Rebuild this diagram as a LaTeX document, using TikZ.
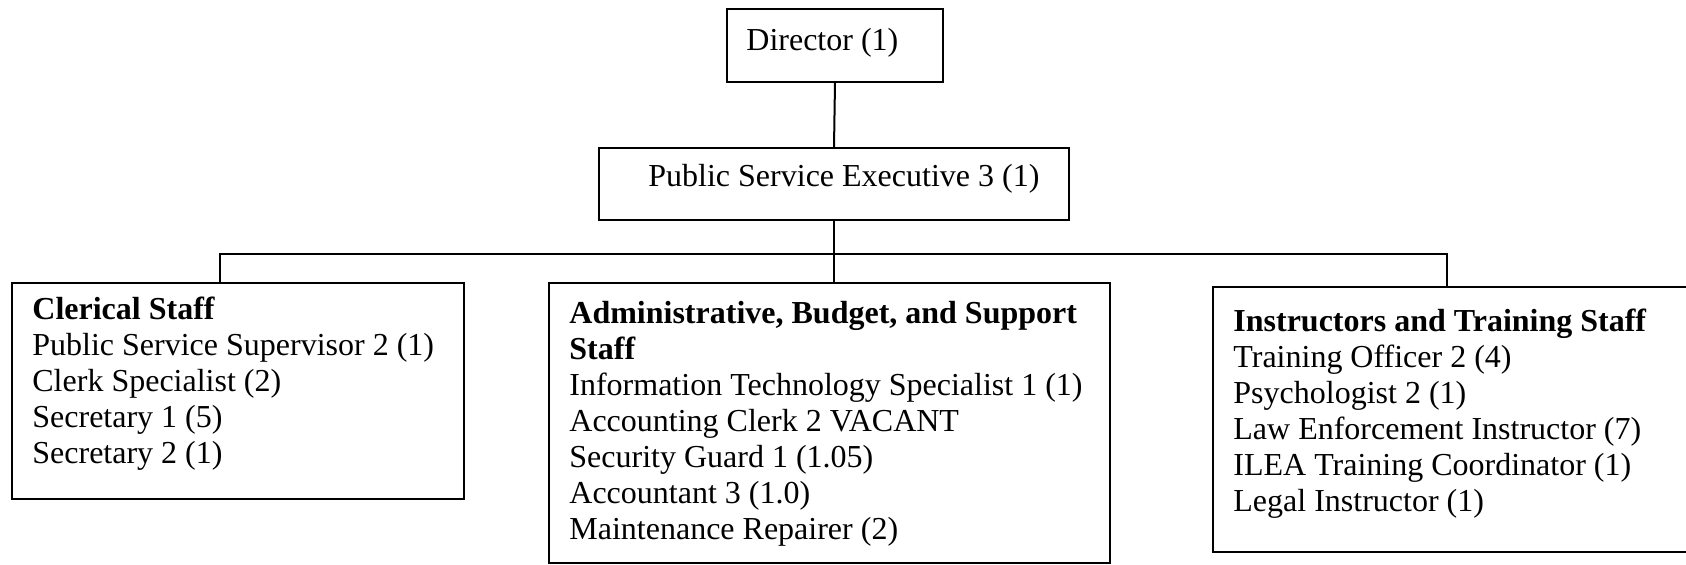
\documentclass[tikz,border=0pt]{standalone}
\usepackage{fontspec}
\setmainfont{Liberation Serif}
\begin{document}
\begin{tikzpicture}[x=0.5pt,y=-0.5pt,
  box/.style={draw, line width=1pt, rectangle, inner sep=0pt, anchor=north west},
  txt/.style={anchor=base west, align=left, inner sep=0pt, font=\fontsize{16pt}{18pt}\selectfont},
  conn/.style={line width=1pt}]
\useasboundingbox (0,0) rectangle (1686,564);
\clip (0,0) rectangle (1686,564);
% boxes
\node[box, minimum width=108pt, minimum height=36.5pt] (dir) at (726,7.5) {};
\node[box, minimum width=235pt, minimum height=36pt] (pse) at (598,147) {};
\node[box, minimum width=226pt, minimum height=108pt] (cler) at (11,282) {};
\node[box, minimum width=280.5pt, minimum height=140pt] (adm) at (548,282) {};
\node[box, minimum width=244pt, minimum height=132.5pt] (inst) at (1212,286) {};
% texts (anchored at the baseline of their last line)
\node[txt] (tdir) at (746,50) {Director (1)};
\node[txt] (tpse) at (648,186) {Public Service Executive 3 (1)};
\node[txt] (tcler) at (32,463) {\textbf{Clerical Staff}\\Public Service Supervisor 2 (1)\\Clerk Specialist (2)\\Secretary 1 (5)\\Secretary 2 (1)};
\node[txt] (tadm) at (569,539) {\textbf{Administrative, Budget, and Support}\\\textbf{Staff}\\Information Technology Specialist 1 (1)\\Accounting Clerk 2 VACANT\\Security Guard 1 (1.05)\\Accountant 3 (1.0)\\Maintenance Repairer (2)};
\node[txt] (tinst) at (1233,511) {\textbf{Instructors and Training Staff}\\Training Officer 2 (4)\\Psychologist 2 (1)\\Law Enforcement Instructor (7)\\ILEA Training Coordinator (1)\\Legal Instructor (1)};
% connectors
\coordinate (bl) at (220,254);
\coordinate (br) at (1447,254);
\draw[conn] (dir.south) -- (pse.north);
\draw[conn] (pse.south) -- (pse.south |- adm.north);
\draw[conn] (cler.north -| bl) -- (bl) -- (br) -- (br |- inst.north);
\end{tikzpicture}
\end{document}
